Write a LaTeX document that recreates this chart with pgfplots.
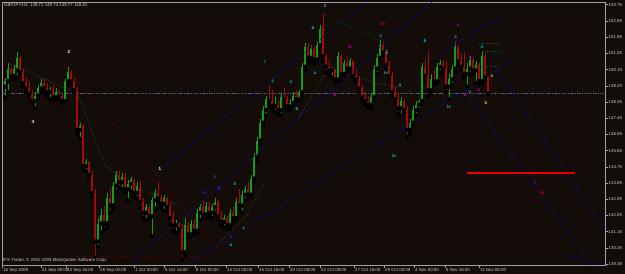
\documentclass[border=0pt]{standalone}
\usepackage{pgfplots}
\usepackage{pgfplotstable}
\pgfplotsset{compat=1.18}
\usepackage{fontspec}
\setmainfont{Liberation Sans}
\definecolor{bg}{RGB}{20,12,8}
\definecolor{framec}{RGB}{160,160,160}
\definecolor{txt}{RGB}{205,205,205}
\definecolor{cup}{RGB}{20,160,20}
\definecolor{cdn}{RGB}{165,10,10}
\definecolor{navy}{RGB}{10,10,150}
\definecolor{bid}{RGB}{80,90,120}
\definecolor{dred}{RGB}{150,0,0}
\definecolor{dgreen}{RGB}{0,110,0}
\definecolor{ggreen}{RGB}{60,85,60}
\definecolor{dgray}{RGB}{80,80,80}
\definecolor{lcyan}{RGB}{0,200,200}
\definecolor{lmag}{RGB}{200,0,200}
\definecolor{lyel}{RGB}{220,200,0}
\definecolor{lblue}{RGB}{40,40,230}
\definecolor{lred}{RGB}{230,0,0}

\pgfplotstableread{
x o h l c
3 149.2 149.7 148.6 149.5
6 149.5 150.5 148.9 150.2
12 149.8 150.4 149.6 150.2
15 150.1 151.1 149.7 150.8
33 148.4 148.9 148.0 148.7
36 148.7 149.3 148.5 149.1
39 149.1 149.6 148.9 149.4
48 148.9 149.2 148.5 149.0
54 148.6 149.1 148.5 148.9
63 148.4 149.6 148.4 149.5
66 149.5 150.3 149.3 150.0
78 146.8 147.2 146.3 147.0
84 144.8 145.2 144.5 145.0
96 140.6 141.9 140.3 141.6
99 141.6 142.4 141.1 142.1
105 141.6 143.3 141.4 143.0
111 142.6 143.9 142.4 143.7
114 143.7 144.5 143.4 144.3
120 143.9 144.4 143.5 144.2
126 143.5 144.0 142.9 143.8
129 143.8 144.2 143.4 144.0
135 143.3 143.9 143.0 143.7
144 142.2 142.7 141.8 142.5
150 142.0 143.1 140.9 142.9
153 142.9 143.5 142.4 143.3
162 142.7 143.2 142.3 143.0
174 141.5 141.8 141.1 141.6
183 140.0 141.9 139.8 141.5
189 141.0 141.8 140.9 141.6
195 141.2 142.4 141.1 142.2
198 142.2 142.7 141.8 142.5
204 142.1 142.8 141.9 142.6
210 142.2 142.7 141.9 142.5
213 142.5 143.0 142.2 142.8
222 141.7 142.1 141.4 141.9
228 141.5 142.4 141.3 142.2
234 141.9 143.0 141.8 142.8
240 142.6 143.4 142.2 143.2
243 143.2 143.7 142.9 143.5
249 143.2 144.3 143.1 144.1
252 144.1 145.5 143.9 145.3
255 145.3 146.4 145.1 146.2
258 146.2 147.4 146.0 147.2
261 147.2 148.1 147.0 147.9
264 147.9 148.7 147.6 148.5
273 148.1 148.6 147.8 148.2
279 147.9 148.8 147.6 148.6
288 148.1 148.5 147.9 148.3
291 148.3 148.9 148.2 148.7
297 148.5 149.0 148.4 148.9
300 148.9 150.5 148.7 150.3
303 150.3 151.6 150.1 151.4
309 150.8 151.5 150.6 151.3
315 150.7 151.7 150.6 151.5
318 151.5 152.6 151.3 152.4
330 150.1 150.3 149.7 150.2
336 149.6 151.1 149.5 150.9
342 149.9 150.7 149.8 150.5
348 150.2 150.8 150.1 150.6
369 148.2 148.8 148.0 148.6
372 148.6 150.4 148.5 150.2
375 150.2 151.0 149.9 150.8
378 150.8 151.8 150.6 151.5
399 148.0 148.6 147.6 148.4
408 146.8 147.4 146.6 147.2
411 147.2 148.1 147.0 147.9
414 147.9 148.4 147.6 148.2
417 148.2 148.5 147.9 148.4
420 148.4 150.5 148.3 150.3
429 149.0 149.9 148.9 149.6
435 149.5 150.5 149.4 150.3
438 150.3 150.7 150.0 150.5
447 149.2 149.9 148.5 149.6
450 149.6 150.4 149.3 150.2
453 150.2 151.6 150.0 151.4
465 149.9 150.5 149.2 150.2
468 150.2 150.9 149.9 150.7
474 150.1 150.6 149.4 150.4
480 149.5 151.2 149.4 150.9
}\up

\pgfplotstableread{
x o h l c
9 150.2 150.3 149.6 149.8
18 150.8 150.9 149.9 150.0
21 150.0 150.2 149.2 149.4
24 149.4 149.7 148.9 149.1
27 149.1 149.5 148.6 148.8
30 148.8 149.0 148.3 148.4
42 149.4 149.6 148.9 149.1
45 149.1 149.4 148.7 148.9
51 149.0 149.3 148.4 148.6
57 148.9 149.0 148.5 148.7
60 148.7 148.8 148.3 148.4
69 150.0 150.1 149.4 149.5
72 149.5 149.7 148.9 149.0
75 149.0 149.2 146.6 146.8
81 147.0 147.1 144.6 144.8
87 145.0 145.1 144.1 144.3
90 144.3 144.5 143.1 143.3
93 143.3 143.5 139.7 140.6
102 142.1 142.6 141.3 141.6
108 143.0 143.6 142.2 142.6
117 144.3 144.5 143.6 143.9
123 144.2 144.4 143.3 143.5
132 144.0 144.1 143.1 143.3
138 143.7 144.0 142.5 142.8
141 142.8 143.0 141.9 142.2
147 142.5 142.6 141.9 142.0
156 143.3 143.9 142.8 143.0
159 143.0 143.2 142.5 142.7
165 143.0 143.1 142.3 142.5
168 142.5 142.8 141.6 141.9
171 141.9 142.3 141.2 141.5
177 141.6 141.7 141.2 141.3
180 141.3 141.6 139.6 140.0
186 141.5 141.7 140.8 141.0
192 141.6 141.8 141.0 141.2
201 142.5 142.9 141.9 142.1
207 142.6 142.8 142.0 142.2
216 142.8 142.9 141.8 142.0
219 142.0 142.3 141.5 141.7
225 141.9 142.0 141.3 141.5
231 142.2 142.5 141.7 141.9
237 142.8 143.5 142.4 142.6
246 143.5 143.9 143.0 143.2
267 148.5 149.3 148.2 148.4
270 148.4 149.0 147.9 148.1
276 148.2 148.4 147.7 147.9
282 148.6 149.2 148.3 148.5
285 148.5 148.7 147.9 148.1
294 148.7 149.0 148.4 148.5
306 151.4 151.6 150.6 150.8
312 151.3 151.4 150.5 150.7
321 152.5 153.3 150.6 150.9
324 150.9 151.0 150.0 150.3
327 150.3 150.6 149.9 150.1
333 150.2 150.2 149.4 149.6
339 150.9 151.0 149.6 149.9
345 150.5 150.9 150.0 150.2
351 150.6 150.7 149.6 149.8
354 149.8 150.2 149.5 149.6
357 149.6 149.8 148.9 149.1
360 149.1 149.3 148.4 148.6
363 148.6 148.9 148.2 148.4
366 148.4 148.7 148.0 148.2
381 151.5 151.7 150.9 151.1
384 151.1 151.3 150.2 150.4
387 150.4 150.6 149.6 149.8
390 149.8 150.0 148.7 148.9
393 148.9 149.2 148.3 148.5
396 148.5 148.9 147.7 148.0
402 148.4 148.5 147.8 147.9
405 147.9 148.1 146.4 146.8
423 150.3 150.7 149.5 149.8
426 149.8 151.2 148.7 149.0
432 149.6 150.1 149.3 149.5
441 150.5 150.7 150.1 150.2
444 150.2 150.6 148.9 149.2
456 151.4 151.5 150.4 150.6
459 150.6 151.0 150.1 150.3
462 150.3 151.1 149.7 149.9
471 150.7 150.8 149.9 150.1
477 150.4 150.5 149.3 149.5
483 150.9 151.0 149.6 149.72
486 149.72 149.74 148.77 148.81
}\dn

\tikzset{wl/.style={font=\fontsize{4.6}{5}\selectfont\bfseries, inner sep=0pt}}

\begin{document}
\begin{tikzpicture}
\fill[bg] (0,0) rectangle (625bp,274bp);
\useasboundingbox (0,0) rectangle (625bp,274bp);
\begin{axis}[
  at={(2bp,9bp)}, anchor=south west,
  scale only axis, width=603bp, height=263bp,
  xmin=0, xmax=603, ymin=139.30, ymax=153.90,
  axis line style={draw=framec, line width=0.6bp},
  tick align=outside, major tick length=2.5bp,
  tick style={draw=framec, line width=0.5bp},
  xtick pos=bottom, ytick pos=right, yticklabel pos=right,
  ytick={139.35,140.25,141.15,142.05,142.95,143.85,144.75,145.65,146.55,147.45,148.35,149.25,150.15,151.05,151.95,152.85,153.75},
  yticklabels={139.35,140.25,141.15,142.05,142.95,143.85,144.75,145.65,146.55,147.45,148.35,149.25,150.15,151.05,151.95,152.85,153.75},
  xtick={0,39,64,97,132,162,193,224,256,287,318,352,382,412,443,477},
  xticklabels={16 Sep 2009,21 Sep 08:00,23 Sep 16:00,28 Sep 00:00,1 Oct 00:00,5 Oct 16:00,8 Oct 00:00,13 Oct 00:00,15 Oct 16:00,20 Oct 08:00,22 Oct 08:00,27 Oct 16:00,29 Oct 00:00,4 Nov 00:00,6 Nov 16:00,11 Nov 08:00},
  y tick label style={font=\fontsize{4.4}{5}\selectfont, text=txt, inner sep=1bp},
  x tick label style={font=\fontsize{4.4}{5}\selectfont, text=txt, anchor=north west, inner sep=0.5bp, xshift=0.5bp},
  clip=true,
]
% bid line
\addplot[bid, line width=0.5bp, dash pattern=on 1.5bp off 0.8bp] coordinates {(0,148.81) (603,148.81)};

% candles: wicks and bodies
\addplot[only marks, mark=none, error bars/.cd, y dir=plus, y explicit, error mark=none,
  error bar style={draw=cup, line width=0.5bp}]
  table[x=x, y=l, y error plus expr=\thisrow{h}-\thisrow{l}] {\up};
\addplot[only marks, mark=none, error bars/.cd, y dir=plus, y explicit, error mark=none,
  error bar style={draw=cup, line width=1.2bp}]
  table[x=x, y=o, y error plus expr=\thisrow{c}-\thisrow{o}] {\up};
\addplot[only marks, mark=none, error bars/.cd, y dir=plus, y explicit, error mark=none,
  error bar style={draw=cdn, line width=0.5bp}]
  table[x=x, y=l, y error plus expr=\thisrow{h}-\thisrow{l}] {\dn};
\addplot[only marks, mark=none, error bars/.cd, y dir=plus, y explicit, error mark=none,
  error bar style={draw=cdn, line width=1.2bp}]
  table[x=x, y=c, y error plus expr=\thisrow{o}-\thisrow{c}] {\dn};

% blue channel lines
\addplot[navy, line width=0.7bp, dash pattern=on 1.5bp off 1.5bp] coordinates {(155,144.46) (370,154.13)};
\addplot[navy, line width=0.7bp, dash pattern=on 1.5bp off 1.5bp] coordinates {(130,139.46) (435,154.13)};
\addplot[navy, line width=0.7bp, dash pattern=on 1.5bp off 1.5bp] coordinates {(185,139.30) (512,150.69)};
\addplot[navy, line width=0.7bp, dash pattern=on 1.5bp off 1.5bp] coordinates {(440,151.08) (500,153.19)};
\addplot[navy, line width=0.7bp, dash pattern=on 1.5bp off 1.5bp] coordinates {(467,148.63) (590,139.30)};
\addplot[navy, line width=0.7bp, dash pattern=on 1.5bp off 1.5bp] coordinates {(487,150.85) (603,141.20)};
\addplot[navy, line width=0.7bp, dash pattern=on 1.5bp off 1.5bp] coordinates {(560,139.85) (603,139.32)};

% red dotted lines
\addplot[dred, line width=0.6bp, dash pattern=on 0.8bp off 1.6bp] coordinates {(62,150.41) (217,140.13)};
\addplot[dred, line width=0.6bp, dash pattern=on 0.8bp off 1.6bp] coordinates {(75,139.78) (205,139.72)};
\addplot[dred, line width=0.6bp, dash pattern=on 0.8bp off 1.6bp] coordinates {(486,149.85) (538,143.46)};
% red solid level
\addplot[lred, line width=1.4bp] coordinates {(465,144.41) (573,144.41)};

% zigzag / dotted helpers
\addplot[ggreen, line width=0.6bp, dash pattern=on 0.8bp off 1.6bp] coordinates {(0,150.69) (62,149.13) (75,148.91) (93,146.24) (103,144.85) (125,143.85) (175,142.63)};
\addplot[ggreen, line width=0.6bp, dash pattern=on 0.8bp off 1.6bp] coordinates {(215,140.41) (245,142.08) (262,143.85)};
\addplot[dgreen, line width=0.6bp, dash pattern=on 0.8bp off 1.6bp] coordinates {(323,153.19) (377,151.80)};
\addplot[dgray, line width=0.6bp, dash pattern=on 0.8bp off 1.6bp] coordinates {(297,147.52) (327,150.24) (373,149.41) (400,149.13)};
\addplot[dgreen, line width=0.6bp, dash pattern=on 1bp off 1.5bp] coordinates {(477,151.63) (498,151.63)};
\addplot[dgreen, line width=0.6bp, dash pattern=on 1bp off 1.5bp] coordinates {(480,151.19) (498,151.19)};
\addplot[dgreen, line width=0.6bp, dash pattern=on 1bp off 1.5bp] coordinates {(480,150.35) (497,150.35)};

% wave labels
\node[wl, text=white] at (67,151.13) {2};
\node[wl, text=white] at (31,147.24) {4};
\node[wl, text=white] at (158,144.63) {1};
\node[wl, text=lcyan] at (323,153.69) {3};
\node[wl, text=lcyan] at (311,152.46) {b};
\node[wl, text=lcyan] at (263,150.58) {i};
\node[wl, text=lcyan] at (313,149.96) {a};
\node[wl, text=lcyan] at (289,149.46) {ii};
\node[wl, text=lcyan] at (271,149.52) {c};
\node[wl, text=lcyan] at (264,147.69) {a};
\node[wl, text=lcyan] at (295,147.96) {b};
\node[wl, text=lcyan] at (379,152.02) {c};
\node[wl, text=lcyan] at (385,151.08) {ii};
\node[wl, text=lcyan] at (384,149.96) {iv};
\node[wl, text=lcyan] at (398,149.30) {a};
\node[wl, text=lcyan] at (423,151.74) {b};
\node[wl, text=lcyan] at (454,151.96) {c};
\node[wl, text=lcyan] at (480,151.41) {ii};
\node[wl, text=lcyan] at (447,148.08) {iv};
\node[wl, text=lcyan] at (213,144.19) {i};
\node[wl, text=lcyan] at (233,143.80) {ii};
\node[wl, text=lcyan] at (242,141.35) {c};
\node[wl, text=lcyan] at (229,140.41) {a};
\node[wl, text=lcyan] at (468,148.91) {v};
\node[wl, text=lcyan] at (392,145.35) {iv};
\node[wl, text=lmag] at (348,151.41) {iv};
\node[wl, text=lmag] at (333,148.74) {b};
\node[wl, text=lmag] at (456,152.63) {v};
\node[wl, text=lmag] at (454,151.69) {i};
\node[wl, text=lmag] at (468,150.80) {ii};
\node[wl, text=lmag] at (477,149.02) {c};
\node[wl, text=lmag] at (463,148.74) {a};
\node[wl, text=lyel] at (490,149.80) {a};
\node[wl, text=lyel] at (484,148.30) {b};
\node[wl, text=lblue] at (203,143.30) {iii};
\node[wl, text=lblue] at (192,140.74) {i};
\node[wl, text=lblue] at (229,140.85) {ii};
\node[wl, text=lblue] at (217,143.58) {b};
\node[wl, text=lblue] at (533,143.85) {v};
\node[wl, text=lred] at (381,152.69) {iii};
\node[wl, text=lred] at (540,143.30) {iii};

% current price box
\node[anchor=west, fill=white, text=black, inner sep=0.6bp, font=\fontsize{4.4}{5}\selectfont] at (605,148.81) {148.81};
\end{axis}
\node[anchor=north west, text=txt, inner sep=0pt, font=\fontsize{4.4}{5}\selectfont] at (4bp,271bp) {GBPJPY,H4\ \ 149.72 149.74 148.77 148.81};
\node[anchor=west, text=txt, inner sep=0pt, font=\fontsize{4.4}{5}\selectfont] at (3bp,14bp) {IFX Trader, \textcopyright\ 2001-2009 MetaQuotes Software Corp.};
\end{tikzpicture}
\end{document}
